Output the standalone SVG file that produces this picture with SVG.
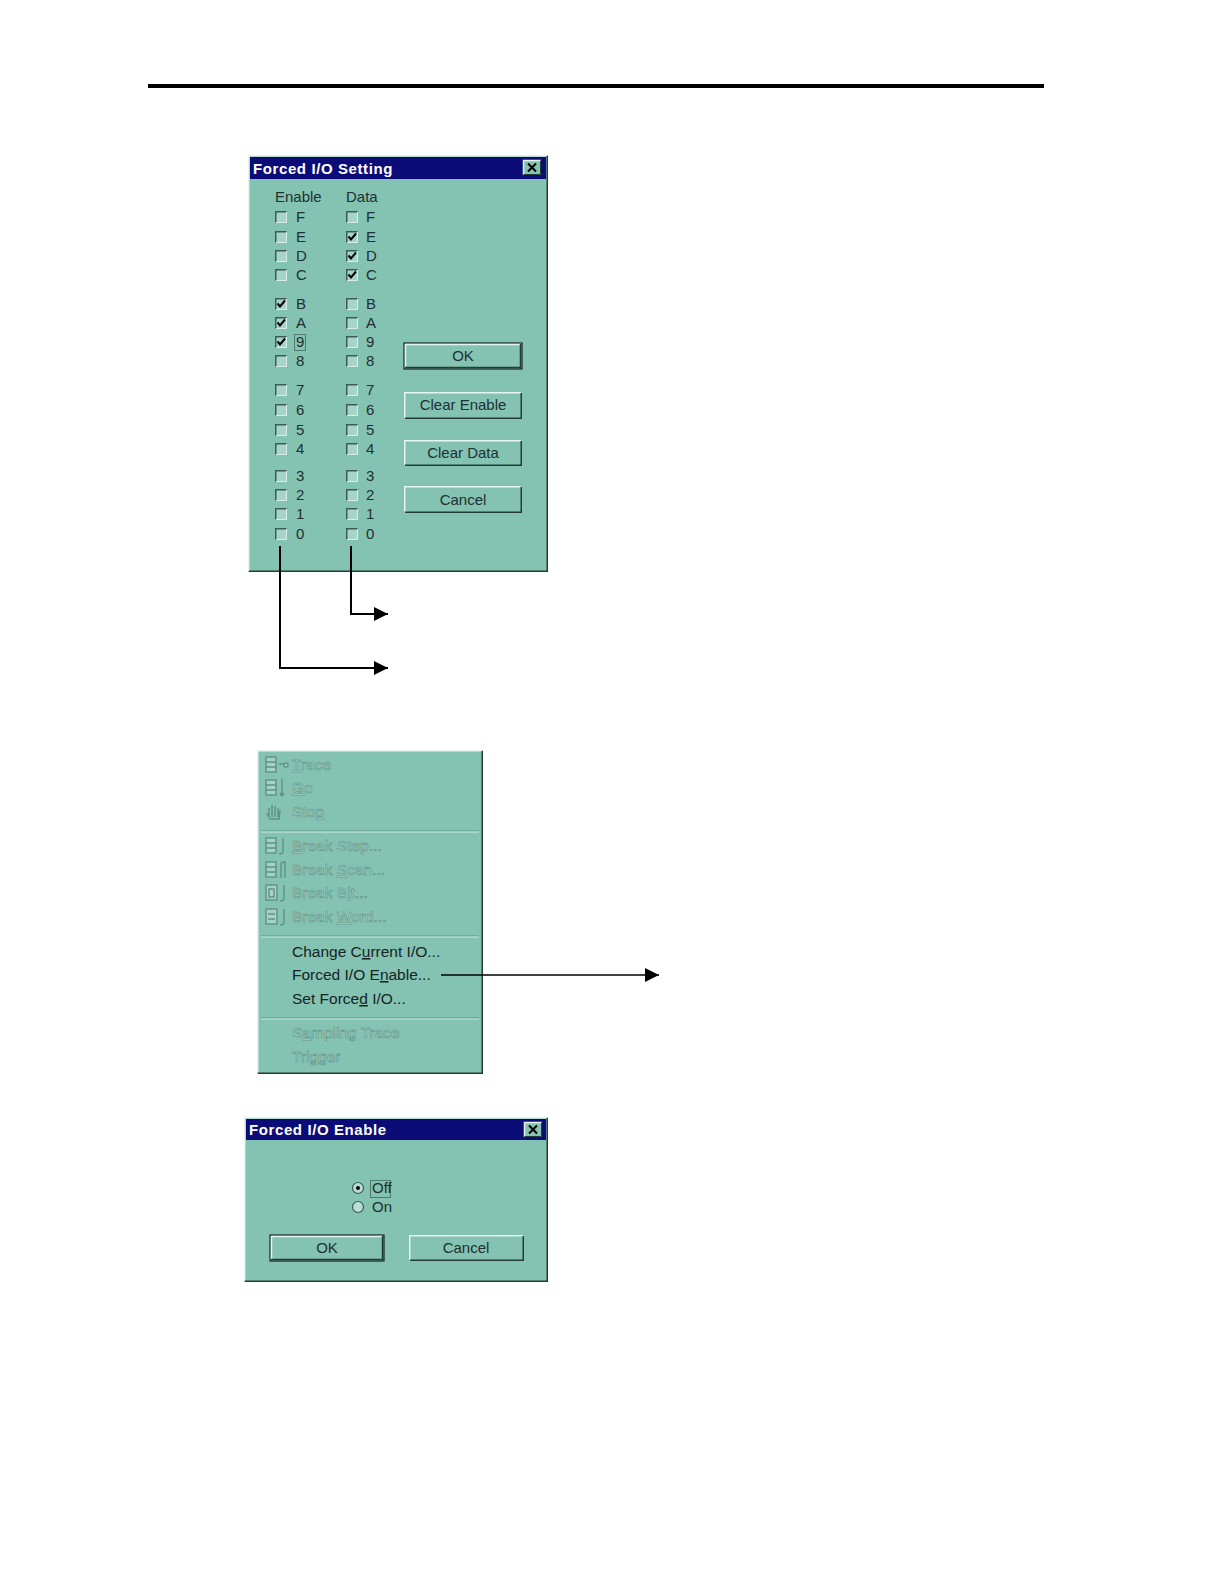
<svg xmlns="http://www.w3.org/2000/svg" xmlns:xlink="http://www.w3.org/1999/xlink" width="1224" height="1584" viewBox="0 0 1224 1584">
<style>
.win{fill:#84c2b2;}
.title{fill:#0c0c78;}
.ttxt{font-family:"Liberation Sans",Arial,sans-serif;font-weight:bold;font-size:15px;fill:#ffffff;letter-spacing:0.6px;}
.lbl{font-family:"Liberation Sans",Arial,sans-serif;font-size:15px;fill:#1e3030;}
.btn{font-family:"Liberation Sans",Arial,sans-serif;font-size:15px;fill:#1e3030;text-anchor:middle;}
.dis{font-family:"Liberation Sans",Arial,sans-serif;font-size:15.5px;fill:#b4dad0;stroke:#5d9285;stroke-width:0.6;}
.en{font-family:"Liberation Sans",Arial,sans-serif;font-size:15.5px;fill:#142424;}
.hl{stroke:#e6f4ef;fill:none;stroke-width:1.5;}
.sh{stroke:#243c36;fill:none;stroke-width:1.5;}
.conn{stroke:#000;stroke-width:2;fill:none;}
.icon{fill:#a6d2c6;stroke:#5d9285;stroke-width:1.4;}
</style>
<defs>
<g id="cb">
<rect x="0" y="0" width="12" height="12" fill="#a6d4c8"/>
<path d="M0.75,12 V0.75 H12" stroke="#3c5c54" stroke-width="1.5" fill="none"/>
<path d="M0.75,11.5 H11.5 V0.75" stroke="#d8eee7" stroke-width="1" fill="none"/>
</g>
<path id="ck" d="M2.5,5.5 L5,8.5 L10,2.5" stroke="#000" stroke-width="2" fill="none"/>
<g id="xbtn">
<rect x="0" y="0" width="18" height="15" fill="#84c2b2"/>
<path d="M0.5,15 V0.5 H18" class="hl"/>
<path d="M0.5,14.5 H17.5 V0.5" stroke="#243c36" stroke-width="1" fill="none"/>
<path d="M5,3.5 L13,11.5 M13,3.5 L5,11.5" stroke="#000" stroke-width="2"/>
</g>
<marker id="arr" viewBox="0 0 14 14" refX="14" refY="7" markerWidth="14" markerHeight="14" markerUnits="userSpaceOnUse" orient="auto">
<path d="M0,0 L14,7 L0,14 z" fill="#000"/>
</marker>
</defs>

<rect width="1224" height="1584" fill="#ffffff"/>
<rect x="148" y="84" width="896" height="4" fill="#000"/>

<!-- Top dialog -->
<g id="forced-io-setting">
<rect x="248" y="155" width="300" height="417" class="win"/>
<path d="M248.75,572 V155.75 H548" class="hl"/>
<path d="M248.75,571.25 H547.25 V155.75" class="sh"/>
<rect x="250" y="157" width="296" height="22" class="title"/>
<text x="253" y="174" class="ttxt">Forced I/O Setting</text>
<use xlink:href="#xbtn" x="523" y="160"/>
<text x="275" y="202" class="lbl">Enable</text>
<text x="346" y="202" class="lbl">Data</text>
<!-- Enable column -->
<g id="enable-col">
<use xlink:href="#cb" x="275" y="211"/><text x="296" y="222" class="lbl">F</text>
<use xlink:href="#cb" x="275" y="231"/><text x="296" y="242" class="lbl">E</text>
<use xlink:href="#cb" x="275" y="250"/><text x="296" y="261" class="lbl">D</text>
<use xlink:href="#cb" x="275" y="269"/><text x="296" y="280" class="lbl">C</text>
<use xlink:href="#cb" x="275" y="298"/><use xlink:href="#ck" x="275" y="298"/><text x="296" y="309" class="lbl">B</text>
<use xlink:href="#cb" x="275" y="317"/><use xlink:href="#ck" x="275" y="317"/><text x="296" y="328" class="lbl">A</text>
<use xlink:href="#cb" x="275" y="336"/><use xlink:href="#ck" x="275" y="336"/><text x="296" y="347" class="lbl">9</text>
<rect x="294.5" y="334.5" width="11" height="16" fill="none" stroke="#1e3030" stroke-width="1" stroke-dasharray="1,1"/>
<use xlink:href="#cb" x="275" y="355"/><text x="296" y="366" class="lbl">8</text>
<use xlink:href="#cb" x="275" y="384"/><text x="296" y="395" class="lbl">7</text>
<use xlink:href="#cb" x="275" y="404"/><text x="296" y="415" class="lbl">6</text>
<use xlink:href="#cb" x="275" y="424"/><text x="296" y="435" class="lbl">5</text>
<use xlink:href="#cb" x="275" y="443"/><text x="296" y="454" class="lbl">4</text>
<use xlink:href="#cb" x="275" y="470"/><text x="296" y="481" class="lbl">3</text>
<use xlink:href="#cb" x="275" y="489"/><text x="296" y="500" class="lbl">2</text>
<use xlink:href="#cb" x="275" y="508"/><text x="296" y="519" class="lbl">1</text>
<use xlink:href="#cb" x="275" y="528"/><text x="296" y="539" class="lbl">0</text>
</g>
<!-- Data column -->
<g id="data-col">
<use xlink:href="#cb" x="346" y="211"/><text x="366" y="222" class="lbl">F</text>
<use xlink:href="#cb" x="346" y="231"/><use xlink:href="#ck" x="346" y="231"/><text x="366" y="242" class="lbl">E</text>
<use xlink:href="#cb" x="346" y="250"/><use xlink:href="#ck" x="346" y="250"/><text x="366" y="261" class="lbl">D</text>
<use xlink:href="#cb" x="346" y="269"/><use xlink:href="#ck" x="346" y="269"/><text x="366" y="280" class="lbl">C</text>
<use xlink:href="#cb" x="346" y="298"/><text x="366" y="309" class="lbl">B</text>
<use xlink:href="#cb" x="346" y="317"/><text x="366" y="328" class="lbl">A</text>
<use xlink:href="#cb" x="346" y="336"/><text x="366" y="347" class="lbl">9</text>
<use xlink:href="#cb" x="346" y="355"/><text x="366" y="366" class="lbl">8</text>
<use xlink:href="#cb" x="346" y="384"/><text x="366" y="395" class="lbl">7</text>
<use xlink:href="#cb" x="346" y="404"/><text x="366" y="415" class="lbl">6</text>
<use xlink:href="#cb" x="346" y="424"/><text x="366" y="435" class="lbl">5</text>
<use xlink:href="#cb" x="346" y="443"/><text x="366" y="454" class="lbl">4</text>
<use xlink:href="#cb" x="346" y="470"/><text x="366" y="481" class="lbl">3</text>
<use xlink:href="#cb" x="346" y="489"/><text x="366" y="500" class="lbl">2</text>
<use xlink:href="#cb" x="346" y="508"/><text x="366" y="519" class="lbl">1</text>
<use xlink:href="#cb" x="346" y="528"/><text x="366" y="539" class="lbl">0</text>
</g>
<!-- Buttons -->
<g id="btn-ok">
<rect x="404" y="343" width="118" height="26" class="win" stroke="#000" stroke-width="1"/>
<path d="M405.5,368 V344.5 H521" class="hl"/>
<path d="M405,367.5 H520.5 V344" stroke="#243c36" stroke-width="1.5" fill="none"/>
<text x="463" y="361" class="btn">OK</text>
</g>
<g id="btn-clear-enable">
<path d="M404.75,419 V392.75 H522" class="hl"/>
<path d="M404.75,418.25 H521.25 V392.75" class="sh"/>
<text x="463" y="410" class="btn">Clear Enable</text>
</g>
<g id="btn-clear-data">
<path d="M404.75,466 V440.75 H522" class="hl"/>
<path d="M404.75,465.25 H521.25 V440.75" class="sh"/>
<text x="463" y="458" class="btn">Clear Data</text>
</g>
<g id="btn-cancel">
<path d="M404.75,513 V486.75 H522" class="hl"/>
<path d="M404.75,512.25 H521.25 V486.75" class="sh"/>
<text x="463" y="505" class="btn">Cancel</text>
</g>
</g>

<!-- Menu -->
<g id="debug-menu">
<rect x="257" y="750" width="226" height="324" class="win"/>
<path d="M257.75,1074 V750.75 H483" class="hl"/>
<path d="M257.75,1073.25 H482.25 V750.75" class="sh"/>
<line x1="261" y1="831" x2="479" y2="831" stroke="#5e9688" stroke-width="1"/>
<line x1="261" y1="832" x2="479" y2="832" stroke="#cfe9e1" stroke-width="1"/>
<line x1="261" y1="936" x2="479" y2="936" stroke="#5e9688" stroke-width="1"/>
<line x1="261" y1="937" x2="479" y2="937" stroke="#cfe9e1" stroke-width="1"/>
<line x1="261" y1="1018" x2="479" y2="1018" stroke="#5e9688" stroke-width="1"/>
<line x1="261" y1="1019" x2="479" y2="1019" stroke="#cfe9e1" stroke-width="1"/>
<!-- icons -->
<g class="icon">
<rect x="266" y="757" width="10" height="15"/><path d="M266,762 H276 M266,767 H276 M279,764 H284" fill="none"/><circle cx="286" cy="765" r="2"/>
<rect x="266" y="780" width="10" height="15"/><path d="M266,785 H276 M266,790 H276 M282,779 V796 M280,793 L282,796 L284,793" fill="none"/>
<path d="M269,817 V808 M272,817 V805 M275,817 V806 M278,817 V808 M267,813 L270,819 H279 L280,810" fill="none"/>
<rect x="266" y="838" width="10" height="15"/><path d="M266,843 H276 M266,848 H276 M283,838 V851 Q283,854 279,854" fill="none"/>
<rect x="266" y="862" width="10" height="15"/><path d="M266,867 H276 M266,872 H276 M281,878 V864 Q281,862 285,862 V878" fill="none"/>
<rect x="266" y="885" width="11" height="15"/><path d="M269,889 V897 H274 V889 Z M284,885 V898 Q284,901 280,901" fill="none"/>
<rect x="266" y="909" width="11" height="15"/><path d="M268,914 H275 M268,919 H275 M284,909 V922 Q284,925 280,925" fill="none"/>
</g>
<text x="292" y="770" class="dis"><tspan text-decoration="underline">T</tspan>race</text>
<text x="292" y="793" class="dis"><tspan text-decoration="underline">G</tspan>o</text>
<text x="292" y="817" class="dis">Sto<tspan text-decoration="underline">p</tspan></text>
<text x="292" y="851" class="dis"><tspan text-decoration="underline">B</tspan>reak Step...</text>
<text x="292" y="875" class="dis">Break <tspan text-decoration="underline">S</tspan>can...</text>
<text x="292" y="898" class="dis">Break B<tspan text-decoration="underline">i</tspan>t...</text>
<text x="292" y="922" class="dis">Break <tspan text-decoration="underline">W</tspan>ord...</text>
<text x="292" y="957" class="en">Change C<tspan text-decoration="underline">u</tspan>rrent I/O...</text>
<text x="292" y="980" class="en">Forced I/O E<tspan text-decoration="underline">n</tspan>able...</text>
<text x="292" y="1004" class="en">Set Force<tspan text-decoration="underline">d</tspan> I/O...</text>
<text x="292" y="1038" class="dis">S<tspan text-decoration="underline">a</tspan>mpling Trace</text>
<text x="292" y="1062" class="dis">Tri<tspan text-decoration="underline">g</tspan>ger</text>
</g>

<!-- Bottom dialog -->
<g id="forced-io-enable">
<rect x="244" y="1117" width="304" height="165" class="win"/>
<path d="M244.75,1282 V1117.75 H548" class="hl"/>
<path d="M244.75,1281.25 H547.25 V1117.75" class="sh"/>
<rect x="246" y="1119" width="300" height="21" class="title"/>
<text x="249" y="1135" class="ttxt">Forced I/O Enable</text>
<use xlink:href="#xbtn" x="524" y="1122"/>
<circle cx="358" cy="1188" r="5.5" fill="#b9ded4" stroke="#3c5c54" stroke-width="1.2"/>
<circle cx="358" cy="1188" r="2" fill="#000"/>
<text x="372" y="1193" class="lbl">Off</text>
<rect x="370.5" y="1180.5" width="20" height="17" fill="none" stroke="#1e3030" stroke-width="1" stroke-dasharray="1,1"/>
<circle cx="358" cy="1207" r="5.5" fill="#b9ded4" stroke="#3c5c54" stroke-width="1.2"/>
<text x="372" y="1212" class="lbl">On</text>
<g id="btn-ok2">
<rect x="270" y="1235" width="114" height="26" class="win" stroke="#000" stroke-width="1"/>
<path d="M271.5,1260 V1236.5 H383" class="hl"/>
<path d="M271,1259.5 H382.5 V1236" stroke="#243c36" stroke-width="1.5" fill="none"/>
<text x="327" y="1253" class="btn">OK</text>
</g>
<g id="btn-cancel2">
<path d="M409.75,1261 V1235.75 H524" class="hl"/>
<path d="M409.75,1260.25 H523.25 V1235.75" class="sh"/>
<text x="466" y="1253" class="btn">Cancel</text>
</g>
</g>

<!-- Connectors -->
<g id="connectors">
<path d="M351,546 V614 H388" class="conn" marker-end="url(#arr)"/>
<path d="M280,546 V668 H388" class="conn" marker-end="url(#arr)"/>
<path d="M441,975 H659" stroke="#000" stroke-width="1.5" fill="none" marker-end="url(#arr)"/>
</g>
</svg>
